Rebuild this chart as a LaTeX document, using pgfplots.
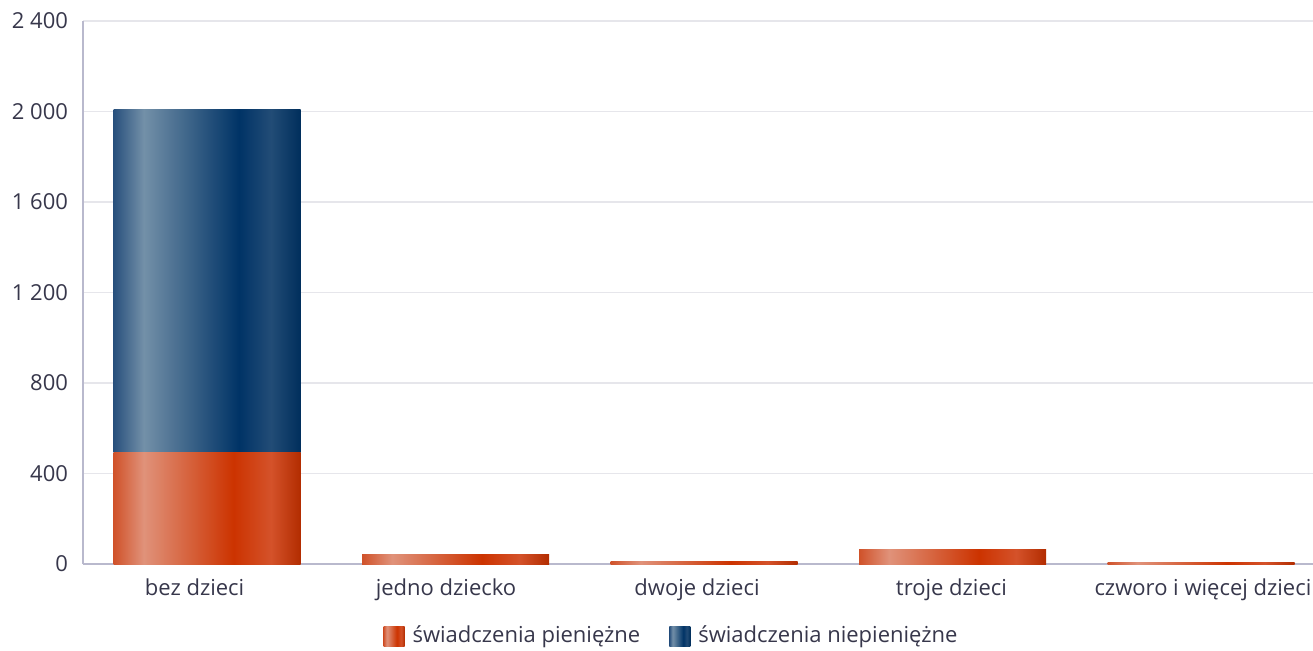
\documentclass[border=0pt]{standalone}
\usepackage{fontspec}
\setmainfont{Open Sans}
\usepackage{pgfplots}
\pgfplotsset{compat=1.18}
\definecolor{txt}{RGB}{55,55,75}
\definecolor{gridc}{RGB}{230,230,235}
\definecolor{axc}{RGB}{185,185,205}
\definecolor{rA}{RGB}{208,82,42}
\definecolor{rL}{RGB}{224,146,122}
\definecolor{rD}{RGB}{204,51,0}
\definecolor{rS}{RGB}{212,82,42}
\definecolor{rE}{RGB}{178,44,0}
\definecolor{bA}{RGB}{40,80,125}
\definecolor{bL}{RGB}{115,144,168}
\definecolor{bD}{RGB}{0,51,102}
\definecolor{bS}{RGB}{34,76,118}
\definecolor{bE}{RGB}{0,46,92}
\pgfdeclarehorizontalshading{redbar}{100bp}{color(0bp)=(rA); color(25bp)=(rA); color(33bp)=(rL); color(57bp)=(rD); color(67bp)=(rS); color(75bp)=(rE); color(100bp)=(rE)}
\pgfdeclarehorizontalshading{bluebar}{100bp}{color(0bp)=(bA); color(25bp)=(bA); color(33bp)=(bL); color(58.5bp)=(bD); color(67bp)=(bS); color(75bp)=(bE); color(100bp)=(bE)}
\pgfplotsset{redst/.style={draw=none, shade, shading=redbar}, bluest/.style={draw=none, shade, shading=bluebar}}
\begin{document}
\begin{tikzpicture}
\begin{axis}[
  scale only axis,
  width=615pt, height=271.5pt,
  ybar stacked,
  bar width=93.5pt,
  xmin=-0.5, xmax=4.45,
  ymin=0, ymax=2400,
  ytick={0,400,800,1200,1600,2000,2400},
  xtick={-0.051,0.961,1.971,2.995,4.007},
  xticklabels={bez dzieci, jedno dziecko, dwoje dzieci, troje dzieci, czworo i więcej dzieci},
  axis lines*=left,
  x axis line style={draw=axc, line width=1pt},
  y axis line style={draw=axc, line width=0.6pt},
  ymajorgrids,
  grid style={draw=gridc, line width=0.6pt},
  major tick length=0pt,
  tick label style={font=\fontsize{11}{13}\selectfont, text=txt},
  xticklabel style={yshift=-4pt},
  yticklabel style={xshift=-4pt},
  /pgf/number format/assume math mode=true,
  /pgf/number format/1000 sep={\ },
  legend columns=2,
  legend style={at={(0.5,-36pt)}, xshift=-12.75pt, anchor=center, draw=none, fill=none,
    font=\fontsize{11}{13}\selectfont, text=txt,
    /tikz/every odd column/.append style={column sep=2pt},
    /tikz/every even column/.append style={column sep=12.5pt}},
  legend image code/.code={\path[#1] (0pt,-5pt) rectangle (10.5pt,5pt);},
  clip=false,
]
\addplot[redst] coordinates {(0,495)};
\addlegendentry{świadczenia pieniężne}
\addplot[bluest] coordinates {(0,1512)};
\addlegendentry{świadczenia niepieniężne}
\addplot[redst, stack plots=false, forget plot] coordinates {(1,44)};
\addplot[redst, stack plots=false, forget plot] coordinates {(2,9)};
\addplot[redst, stack plots=false, forget plot] coordinates {(3,62)};
\addplot[redst, stack plots=false, forget plot] coordinates {(4,8)};
\end{axis}
\pgfresetboundingbox
\path[use as bounding box] (-41.5pt,-43pt) rectangle (615pt,282pt);
\end{tikzpicture}
\end{document}
